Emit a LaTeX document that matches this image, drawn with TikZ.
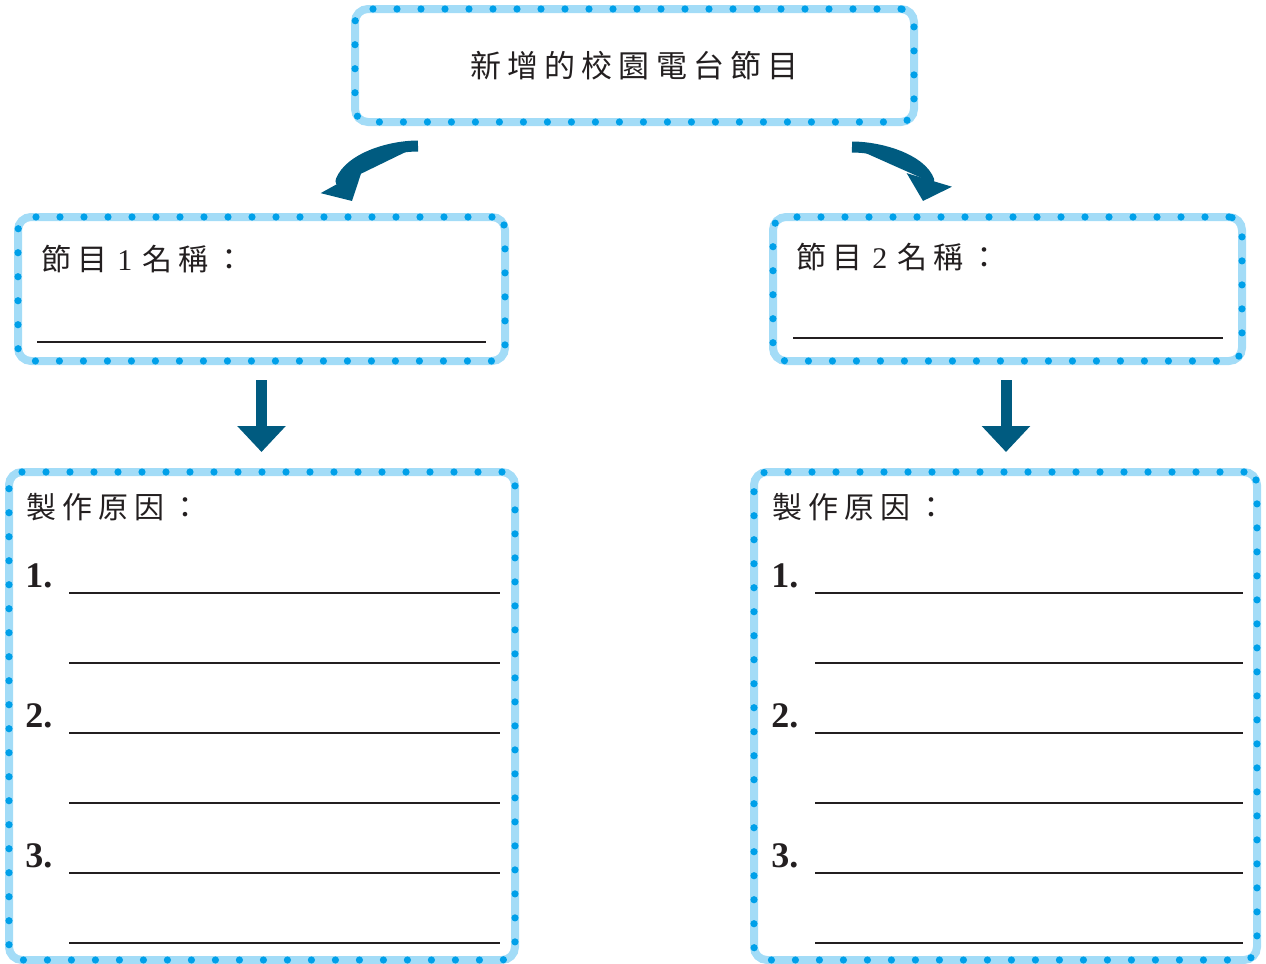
\documentclass[tikz,border=0pt]{standalone}
\usepackage{fontspec}
\setmainfont{Liberation Serif}
\newfontfamily\cjk[LetterSpace=20]{Noto Sans CJK TC}
\usetikzlibrary{arrows.meta}
\definecolor{framelight}{HTML}{A3DCF7}
\definecolor{framedot}{HTML}{00A0E9}
\definecolor{arrowteal}{HTML}{005B80}
\definecolor{inkblack}{HTML}{231F20}

\begin{document}
\begin{tikzpicture}[x=0.5pt, y=-0.5pt,
    box/.style={draw=framelight, line width=4pt, rounded corners=6.5pt, inner sep=0pt,
        postaction={draw=framedot, line width=3.6pt, line cap=round, dash pattern=on 0pt off 12pt}},
    cjklabel/.style={anchor=west, inner sep=0pt, text=inkblack, font=\cjk\fontsize{15pt}{18pt}\selectfont},
    numlabel/.style={anchor=base west, inner sep=0pt, text=inkblack, font=\bfseries\fontsize{18pt}{20pt}\selectfont},
    writeline/.style={draw=inkblack, line width=0.85pt},
    bigarrow/.style={-{Triangle[length=11pt, width=23pt]}, draw=arrowteal, fill=arrowteal, line width=5.5pt, line join=round},
    downarrow/.style={bigarrow, -{Triangle[length=13pt, width=23.5pt]}, shorten <=7.5pt, shorten >=8pt}
]
\useasboundingbox (0,0) rectangle (1266,964);

% Boxes
\node[box, minimum width=279.5pt, minimum height=56.5pt, text=inkblack,
      font=\cjk\fontsize{15.5pt}{18pt}\selectfont] (title) at (634.5,65.5) {新增的校園電台節目};
\node[box, minimum width=243.5pt, minimum height=72pt] (prog1) at (261.5,289) {};
\node[box, minimum width=234.5pt, minimum height=72pt] (prog2) at (1007.5,289) {};
\node[box, minimum width=253pt, minimum height=244pt] (reason1) at (262,716) {};
\node[box, minimum width=251.5pt, minimum height=244pt] (reason2) at (1005.5,716) {};

% Labels
\node[cjklabel] (name1) at (41,259) {節目\hspace{5pt}{\rmfamily 1}\hspace{5pt}名稱：};
\node[cjklabel] (name2) at (796,257) {節目\hspace{5pt}{\rmfamily 2}\hspace{5pt}名稱：};
\node[cjklabel] (why1) at (26,507) {製作原因：};
\node[cjklabel] (why2) at (772,507) {製作原因：};

\foreach \n in {1,2,3} {
    \node[numlabel] (numa\n) at (25,{587+140*(\n-1)}) {\n.};
    \node[numlabel] (numb\n) at (771,{587+140*(\n-1)}) {\n.};
}

% Writing lines
\draw[writeline] (37,342) -- (486,342);
\draw[writeline] (793,338) -- (1223,338);
\foreach \row in {0,...,5} {
    \draw[writeline] (69,{593+70*\row}) -- (500,{593+70*\row});
    \draw[writeline] (815,{593+70*\row}) -- (1243,{593+70*\row});
}

% Arrows
\coordinate (bendL) at (341,181);
\coordinate (bendR) at (929,181);
\draw[bigarrow] ([shift={(-216.5,20)}]title.south) .. controls +(-28,0) and +(9,-23) .. (bendL)
    -- ([shift={(90.5,-12)}]prog1.north);
\draw[bigarrow] ([shift={(217.5,21)}]title.south) .. controls +(28,0) and +(-8,-22) .. (bendR)
    -- ([shift={(-84.5,-12)}]prog2.north);
\draw[downarrow] (prog1.south) -- (prog1.south |- reason1.north);
\draw[downarrow] ([xshift=-0.75pt]prog2.south) -- ([xshift=-0.75pt]prog2.south |- reason2.north);

\end{tikzpicture}
\end{document}
